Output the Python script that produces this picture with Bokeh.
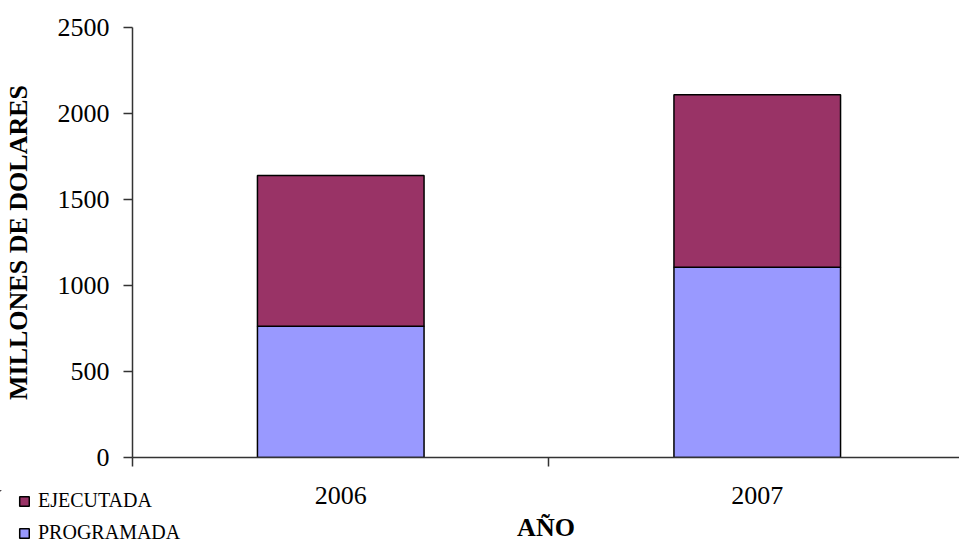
from bokeh.plotting import figure
from bokeh.models import ColumnDataSource, FixedTicker, Legend, LegendItem, Range1d
from bokeh.embed import file_html
from bokeh.resources import INLINE

years = ["2006", "2007"]
programada = [763, 1106]
ejecutada = [877, 1003]
y_ticks = [0, 500, 1000, 1500, 2000, 2500]

positions = [i + 0.5 for i in range(len(years))]
source = ColumnDataSource(dict(x=positions, programada=programada, ejecutada=ejecutada))

FONT = "Liberation Serif"
COLORS = ["#9999FF", "#993366"]

p = figure(width=959, height=544, output_backend="svg", toolbar_location=None,
           x_range=Range1d(0, 828 / 417), y_range=Range1d(0, 2500),
           min_border_left=131, min_border_right=0, min_border_top=27, min_border_bottom=87)
p.outline_line_color = None
p.grid.visible = False

renderers = p.vbar_stack(["programada", "ejecutada"], x="x", width=0.40, source=source,
                         fill_color=COLORS, line_color="black", line_width=1.5)

# x axis
p.xaxis.ticker = FixedTicker(ticks=positions, minor_ticks=list(range(len(years) + 1)))
p.xaxis.major_label_overrides = {pos: y for pos, y in zip(positions, years)}
p.xaxis.major_tick_out = 0
p.xaxis.major_tick_in = 0
p.xaxis.minor_tick_out = 9
p.xaxis.minor_tick_in = 0
p.xaxis.minor_tick_line_color = "#333333"
p.xaxis.minor_tick_line_width = 1.5
p.xaxis.major_label_standoff = 20
p.xaxis.major_label_text_font = FONT
p.xaxis.major_label_text_font_size = "26px"
p.xaxis.major_label_text_color = "black"
p.xaxis.axis_label = "AÑO"
p.xaxis.axis_label_text_font = FONT
p.xaxis.axis_label_text_font_style = "bold"
p.xaxis.axis_label_text_font_size = "26px"
p.xaxis.axis_label_text_color = "black"
p.xaxis.axis_label_standoff = 6
p.xaxis.axis_line_color = "#333333"
p.xaxis.axis_line_width = 1.5

# y axis
p.yaxis.ticker = FixedTicker(ticks=y_ticks)
p.yaxis.major_tick_out = 9
p.yaxis.major_tick_in = 0
p.yaxis.minor_tick_line_color = None
p.yaxis.major_tick_line_color = "#333333"
p.yaxis.major_tick_line_width = 1.5
p.yaxis.major_label_standoff = 14
p.yaxis.major_label_text_font = FONT
p.yaxis.major_label_text_font_size = "26px"
p.yaxis.major_label_text_color = "black"
p.yaxis.axis_label = "MILLONES DE DOLARES"
p.yaxis.axis_label_text_font = FONT
p.yaxis.axis_label_text_font_style = "bold"
p.yaxis.axis_label_text_font_size = "26px"
p.yaxis.axis_label_text_color = "black"
p.yaxis.axis_label_standoff = 22
p.yaxis.axis_line_color = "#333333"
p.yaxis.axis_line_width = 1.5

# legend: a small overlay figure in the lower-left corner (its bars lie far outside its ranges)
lf = figure(width=240, height=56, output_backend="svg", toolbar_location=None,
            x_range=Range1d(1000, 1001), y_range=Range1d(-10000, -9000),
            x_axis_type=None, y_axis_type=None,
            min_border_left=0, min_border_right=0, min_border_top=0, min_border_bottom=0)
lf.outline_line_color = None
lf.grid.visible = False
lf.background_fill_alpha = 0
lf.border_fill_alpha = 0
lrs = lf.vbar_stack(["programada", "ejecutada"], x="x", width=0.40, source=source,
                    fill_color=COLORS, line_color="black", line_width=1.5)
legend = Legend(items=[LegendItem(label="EJECUTADA", renderers=[lrs[1]]),
                       LegendItem(label="PROGRAMADA", renderers=[lrs[0]])],
                location=(18, 2), orientation="vertical",
                padding=0, margin=0, spacing=9, label_height=20,
                glyph_width=12, glyph_height=12, label_standoff=8,
                label_text_font=FONT, label_text_font_size="20px",
                label_text_color="black",
                border_line_color=None, background_fill_alpha=0)
lf.add_layout(legend, "center")
lf.styles = {"position": "absolute", "left": "0px", "top": "490px", "z-index": "10"}

open("out.html", "w").write(file_html([p, lf], INLINE))
